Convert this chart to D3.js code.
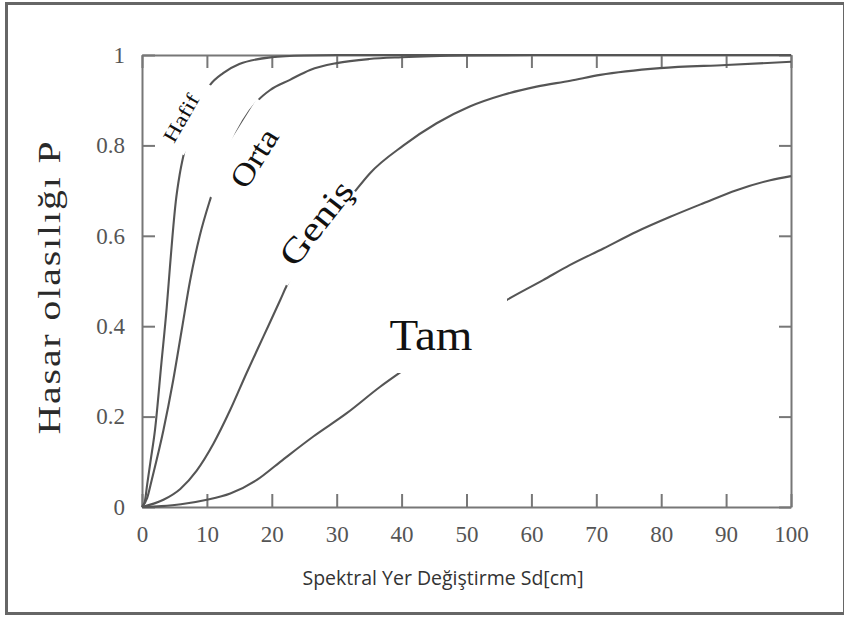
<!DOCTYPE html>
<html>
<head>
<meta charset="utf-8">
<script src="https://cdn.jsdelivr.net/npm/d3@7"></script>
<style>
  html, body { margin: 0; padding: 0; background: #fff; }
  svg { display: block; }
</style>
</head>
<body>
<svg id="chart" width="844" height="619"></svg>
<script>
// ---- data ----
const xTicks = [0, 10, 20, 30, 40, 50, 60, 70, 80, 90, 100];
const yTicks = [0, 0.2, 0.4, 0.6, 0.8, 1];
const yTickLabels = ["0", "0.2", "0.4", "0.6", "0.8", "1"];

const hafifSd = [0, 0.4, 0.8, 1.3, 2, 3, 3.8, 4.3, 4.7, 5.2, 5.8, 6.5, 8, 10.5, 12.5, 15, 20, 25, 30, 100];
const hafifP  = [0, 0.01, 0.05, 0.1, 0.17, 0.32, 0.44, 0.53, 0.60, 0.675, 0.735, 0.785, 0.865, 0.934, 0.96, 0.98, 0.995, 0.999, 1, 1];

const ortaSd = [0, 0.8, 1.5, 3.3, 4.8, 6.1, 7.4, 8.9, 10.5, 13.6, 17.9, 19.7, 22.8, 25.9, 30, 35, 40, 50, 60, 100];
const ortaP  = [0, 0.02, 0.06, 0.17, 0.28, 0.39, 0.50, 0.60, 0.68, 0.80, 0.90, 0.922, 0.945, 0.967, 0.982, 0.991, 0.995, 0.999, 1, 1];

const genisSd = [0, 3.3, 5.9, 8.4, 11, 13.6, 16.1, 18.7, 21.3, 22.3, 27, 32.8, 35.1, 40.3, 45.4, 50.5, 55.7, 60.8, 66, 70.6, 79.8, 90, 100];
const genisP  = [0, 0.016, 0.04, 0.08, 0.14, 0.215, 0.296, 0.377, 0.458, 0.49, 0.59, 0.698, 0.738, 0.80, 0.849, 0.886, 0.912, 0.930, 0.943, 0.956, 0.971, 0.978, 0.985];

const tamSd = [0, 3, 6, 10, 13.6, 17.7, 21.3, 26.4, 31.5, 36.7, 40, 45, 50, 56.2, 61.8, 65.9, 71.1, 76.2, 81.4, 86.5, 91.6, 96.8, 100];
const tamP  = [0, 0.002, 0.006, 0.016, 0.03, 0.06, 0.10, 0.156, 0.207, 0.266, 0.30, 0.352, 0.403, 0.458, 0.502, 0.535, 0.572, 0.609, 0.642, 0.672, 0.701, 0.723, 0.732];

const seriesNames = ["Hafif", "Orta", "Geniş", "Tam"];
const xTitle = "Spektral Yer Değiştirme Sd[cm]";
const yTitle = "Hasar olasılığı P";

// ---- layout ----
const svg = d3.select("#chart");
const x = d3.scaleLinear().domain([0, 100]).range([142, 791]);
const y = d3.scaleLinear().domain([0, 1]).range([507, 55]);

// outer frame
svg.append("rect")
  .attr("x", 6.5).attr("y", 3.5).attr("width", 838).attr("height", 610)
  .attr("fill", "none").attr("stroke", "#666").attr("stroke-width", 3);

const axisColor = "#777";
function styleAxis(g) {
  g.select(".domain").attr("stroke", axisColor).attr("stroke-width", 2);
  g.selectAll(".tick line").attr("stroke", axisColor).attr("stroke-width", 2);
}

// bottom axis
const gx = svg.append("g").attr("transform", `translate(0,${y(0)})`)
  .call(d3.axisBottom(x).tickValues(xTicks).tickSizeInner(-13).tickSizeOuter(0).tickPadding(19));
styleAxis(gx);
gx.selectAll("text").attr("font-family", "Liberation Serif, serif").attr("font-size", 23).attr("fill", "#555");

// top axis
const gt = svg.append("g").attr("transform", `translate(0,${y(1)})`)
  .call(d3.axisTop(x).tickValues(xTicks).tickSizeInner(-13).tickSizeOuter(0).tickFormat(""));
styleAxis(gt);

// left axis
const gy = svg.append("g").attr("transform", `translate(${x(0)},0)`)
  .call(d3.axisLeft(y).tickValues(yTicks).tickSizeInner(-13).tickSizeOuter(0).tickPadding(17)
    .tickFormat((d, i) => yTickLabels[i]));
styleAxis(gy);
gy.selectAll("text").attr("font-family", "Liberation Serif, serif").attr("font-size", 23).attr("fill", "#555");

// right axis
const gr = svg.append("g").attr("transform", `translate(${x(100)},0)`)
  .call(d3.axisRight(y).tickValues(yTicks).tickSizeInner(-12).tickSizeOuter(0).tickFormat(""));
styleAxis(gr);

// curves
const line = d3.line().x(d => x(d[0])).y(d => y(d[1])).curve(d3.curveMonotoneX);
const series = [
  d3.zip(hafifSd, hafifP),
  d3.zip(ortaSd, ortaP),
  d3.zip(genisSd, genisP),
  d3.zip(tamSd, tamP)
];
svg.append("g").selectAll("path").data(series).join("path")
  .attr("d", line).attr("fill", "none").attr("stroke", "#555").attr("stroke-width", 2.1);

// labels with white backing boxes
const labels = [
  { name: seriesNames[0], cx: 181, cy: 118, a: -60, fs: 20, len: 52, u0: -31, u1: 43, n0: -14, n1: 21 },
  { name: seriesNames[1], cx: 254, cy: 158, a: -58, fs: 31, len: 64, u0: -56, u1: 52, n0: -29, n1: 18 },
  { name: seriesNames[2], cx: 316, cy: 223, a: -52, fs: 34, len: 98, u0: -67, u1: 49, n0: -25, n1: 16 },
  { name: seriesNames[3], cx: 431, cy: 335, a: 0, fs: 44, len: 83, u0: -51, u1: 76, n0: -38, n1: 38 }
];
const lg = svg.append("g").selectAll("g").data(labels).join("g")
  .attr("transform", d => `translate(${d.cx},${d.cy}) rotate(${d.a})`);
lg.append("rect")
  .attr("x", d => d.u0).attr("y", d => d.n0)
  .attr("width", d => d.u1 - d.u0).attr("height", d => d.n1 - d.n0)
  .attr("fill", "#fff");
lg.append("text")
  .attr("text-anchor", "middle").attr("dominant-baseline", "central")
  .attr("font-family", "Liberation Serif, serif").attr("font-size", d => d.fs)
  .attr("textLength", d => d.len).attr("lengthAdjust", "spacingAndGlyphs")
  .attr("fill", "#111")
  .text(d => d.name);

// axis titles
svg.append("text")
  .attr("transform", "translate(60,287) rotate(-90)")
  .attr("text-anchor", "middle")
  .attr("font-family", "Liberation Serif, serif").attr("font-size", 31)
  .attr("letter-spacing", 1.5)
  .attr("textLength", 295).attr("lengthAdjust", "spacingAndGlyphs")
  .attr("fill", "#2a2a2a")
  .text(yTitle);

svg.append("text")
  .attr("x", 443).attr("y", 585)
  .attr("text-anchor", "middle")
  .attr("font-family", "Open Sans, sans-serif").attr("font-size", 19.5)
  .attr("fill", "#333")
  .text(xTitle);
</script>
</body>
</html>
